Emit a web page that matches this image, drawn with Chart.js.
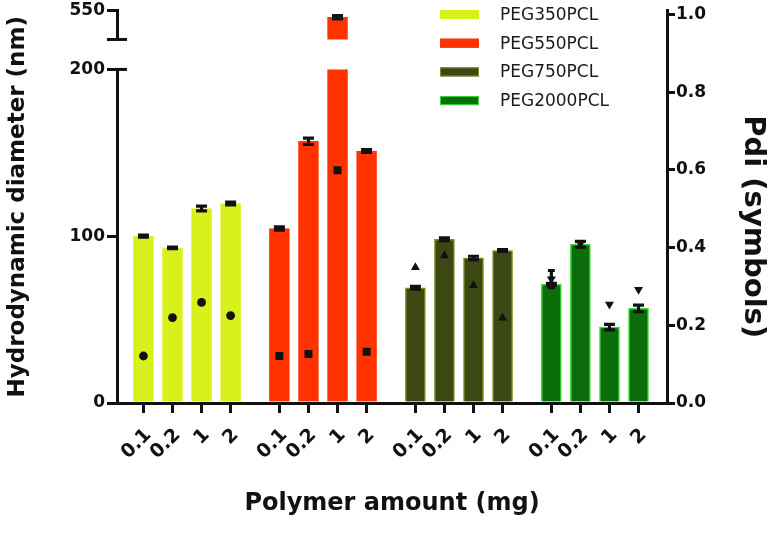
<!DOCTYPE html>
<html>
<head>
<meta charset="utf-8">
<script src="https://cdn.jsdelivr.net/npm/chart.js@4.4.1/dist/chart.umd.min.js"></script>
<style>
  html, body { margin: 0; padding: 0; background: #fff; }
  #wrap { width: 774px; height: 537px; }
</style>
</head>
<body>
<div id="wrap"><canvas id="sizeChart"></canvas></div>
<script>
// polymer amount (mg) - x tick labels, same for every group
const amounts = ["0.1", "0.2", "1", "2"];
const polymers = ["PEG350PCL", "PEG550PCL", "PEG750PCL", "PEG2000PCL"];

// hydrodynamic diameter (nm), bars
const sizePEG350 = [100.0, 93.0, 116.6, 119.6];
const sizePEG550 = [104.6, 156.9, 538.4, 151.1];
const sizePEG750 = [69.1, 98.2, 87.0, 91.4];
const sizePEG2000 = [71.1, 95.2, 45.5, 56.7];

const sizeErrPEG350 = [0.6, 0.4, 1.4, 0.9];
const sizeErrPEG550 = [1.0, 1.9, 3.0, 0.8];
const sizeErrPEG750 = [0.8, 0.8, 1.0, 0.5];
const sizeErrPEG2000 = [0.6, 1.7, 1.6, 2.0];

// Pdi (symbols)
const pdiPEG350 = [0.121, 0.220, 0.259, 0.225];
const pdiPEG550 = [0.121, 0.126, 0.599, 0.132];
const pdiPEG750 = [0.349, 0.379, 0.303, 0.219];
const pdiPEG2000 = [0.319, 0.410, 0.254, 0.292];
const pdiErrPEG2000 = [0.022, 0, 0, 0];

const sizeTicksLow = [0, 100, 200];
const sizeTicksHigh = [500, 550];
const pdiTicks = [0, 0.2, 0.4, 0.6, 0.8, 1.0];

const groups = [
    { label: polymers[0], size: sizePEG350, sizeErr: sizeErrPEG350, pdi: pdiPEG350, pdiErr: null,
      fill: "#d8f01c", edge: "#d8f01c", symbol: "circle", rot: 0, radius: 4.4 },
    { label: polymers[1], size: sizePEG550, sizeErr: sizeErrPEG550, pdi: pdiPEG550, pdiErr: null,
      fill: "#ff3200", edge: "#ff3200", symbol: "rect", rot: 0, radius: 5.6 },
    { label: polymers[2], size: sizePEG750, sizeErr: sizeErrPEG750, pdi: pdiPEG750, pdiErr: null,
      fill: "#3b4813", edge: "#7d8f22", symbol: "triangle", rot: 0, radius: 5.2 },
    { label: polymers[3], size: sizePEG2000, sizeErr: sizeErrPEG2000, pdi: pdiPEG2000, pdiErr: pdiErrPEG2000,
      fill: "#0b6e0b", edge: "#3bd83b", symbol: "triangle", rot: 180, radius: 5.2 }
];

// group g, bar j -> position on the linear x scale (gap between groups)
const GROUP_STEP = 4.68;
const xPos = (g, j) => g * GROUP_STEP + j;
const tickPos = [];
groups.forEach((grp, g) => amounts.forEach((a, j) => tickPos.push(xPos(g, j))));

const INK = "#111";
const FONT = "'DejaVu Sans', sans-serif";

const datasets = [];
// bars on the lower (0-200) and upper (500-550) part of the broken axis
["y", "yTop"].forEach(axisId => {
    groups.forEach((grp, g) => {
        datasets.push({
            type: "bar",
            label: grp.label,
            data: grp.size.map((v, j) => ({ x: xPos(g, j), y: v })),
            errors: grp.sizeErr,
            capHalf: 5.5,
            yAxisID: axisId,
            backgroundColor: grp.fill,
            borderColor: grp.edge,
            borderWidth: 1.5,
            barThickness: 20,
            grouped: false,
            order: 2
        });
    });
});
// Pdi symbols on the right axis
groups.forEach((grp, g) => {
    datasets.push({
        type: "scatter",
        label: grp.label + " Pdi",
        data: grp.pdi.map((v, j) => ({ x: xPos(g, j), y: v })),
        errors: grp.pdiErr,
        capHalf: 3.5,
        yAxisID: "y1",
        pointStyle: grp.symbol,
        rotation: grp.rot,
        pointRadius: grp.radius,
        backgroundColor: INK,
        borderColor: INK,
        borderWidth: 0,
        order: 1
    });
});

// error bars, drawn through the dataset's own y scale
const errorBars = {
    id: "errorBars",
    afterDatasetDraw(chart, args) {
        const ds = chart.data.datasets[args.index];
        if (!ds.errors) return;
        const meta = args.meta;
        const yScale = chart.scales[meta.yAxisID];
        const area = chart.chartArea;
        const ctx = chart.ctx;
        ctx.save();
        ctx.beginPath();
        ctx.rect(area.left, yScale.top - 6, area.right - area.left, yScale.bottom - yScale.top + 6);
        ctx.clip();
        ctx.strokeStyle = INK;
        ctx.lineWidth = 3.2;
        meta.data.forEach((el, i) => {
            const e = ds.errors[i];
            if (!e) return;
            const v = ds.data[i].y;
            const hi = yScale.getPixelForValue(v + e);
            const lo = yScale.getPixelForValue(v - e);
            const w = ds.capHalf;
            ctx.beginPath();
            ctx.moveTo(el.x, hi); ctx.lineTo(el.x, lo);
            ctx.moveTo(el.x - w, hi); ctx.lineTo(el.x + w, hi);
            ctx.moveTo(el.x - w, lo); ctx.lineTo(el.x + w, lo);
            ctx.stroke();
        });
        ctx.restore();
    }
};

// short marks on the inner side where the left axis is broken
const axisBreak = {
    id: "axisBreak",
    afterDraw(chart) {
        const ctx = chart.ctx;
        const x0 = chart.chartArea.left;
        const low = chart.scales.y, high = chart.scales.yTop;
        ctx.save();
        ctx.strokeStyle = INK;
        ctx.lineWidth = 3;
        [low.getPixelForValue(sizeTicksLow[2]), high.getPixelForValue(sizeTicksHigh[0])].forEach(py => {
            ctx.beginPath();
            ctx.moveTo(x0 - 2, py);
            ctx.lineTo(x0 + 10, py);
            ctx.stroke();
        });
        ctx.restore();
    }
};

// legend in the upper right of the plot
const legendBox = {
    id: "legendBox",
    afterDraw(chart) {
        const { ctx, chartArea } = chart;
        const x0 = chartArea.right - 227;
        ctx.save();
        ctx.font = "17px " + FONT;
        ctx.textBaseline = "middle";
        groups.forEach((grp, i) => {
            const yc = chartArea.top + 4 + i * 28.7;
            ctx.fillStyle = grp.fill;
            ctx.fillRect(x0, yc - 4.5, 39, 9);
            ctx.strokeStyle = grp.edge;
            ctx.lineWidth = 1;
            ctx.strokeRect(x0 + 0.5, yc - 4, 38, 8);
            ctx.fillStyle = "#1a1a1a";
            ctx.fillText(grp.label, x0 + 60, yc + 1);
        });
        ctx.restore();
    }
};

const tickFont = { family: FONT, size: 17, weight: "bold", lineHeight: 1 };
const axisGrid = { drawOnChartArea: false, color: INK, lineWidth: 3, tickLength: 10, offset: false };
const axisBorder = { color: INK, width: 3 };
const blankAxis = (extra) => Object.assign({
    type: "linear",
    grid: { display: false, drawTicks: false },
    border: { display: false },
    ticks: { display: false }
}, extra);

new Chart(document.getElementById("sizeChart"), {
    data: { datasets: datasets },
    options: {
        responsive: true,
        maintainAspectRatio: false,
        animation: false,
        layout: { padding: { top: 10, bottom: 15, left: 0, right: 0 } },
        plugins: { legend: { display: false }, tooltip: { enabled: false } },
        scales: {
            x: {
                type: "linear",
                offset: false,
                min: -0.91,
                max: 18.02,
                afterBuildTicks: s => { s.ticks = tickPos.map(v => ({ value: v })); },
                ticks: {
                    autoSkip: false, minRotation: 45, maxRotation: 45, padding: 11, labelOffset: 5,
                    color: INK, font: { family: FONT, size: 19, weight: "bold" },
                    callback: (v, i) => amounts[i % amounts.length]
                },
                grid: axisGrid,
                border: axisBorder,
                title: { display: true, text: "Polymer amount (mg)", color: INK,
                         font: { family: FONT, size: 24, weight: "bold" } },
                afterFit: s => { s.height = 119; }
            },
            yTitle: blankAxis({
                position: "left", weight: 10,
                title: { display: true, text: "Hydrodynamic diameter (nm)", color: INK,
                         font: { family: FONT, size: 23, weight: "bold" } },
                afterFit: s => { s.width = 36; }
            }),
            yTop: {
                type: "linear", position: "left", stack: "left", stackWeight: 29, weight: 3,
                min: sizeTicksHigh[0], max: sizeTicksHigh[1],
                afterBuildTicks: s => { s.ticks = sizeTicksHigh.map(v => ({ value: v })); },
                ticks: { autoSkip: false, color: INK, font: tickFont, padding: 2,
                         callback: v => (v === sizeTicksHigh[1] ? String(v) : "") },
                grid: axisGrid,
                border: axisBorder,
                afterFit: s => { s.width = 81; }
            },
            yGap: blankAxis({
                position: "left", stack: "left", stackWeight: 30, weight: 2,
                afterFit: s => { s.width = 81; }
            }),
            y: {
                type: "linear", position: "left", stack: "left", stackWeight: 334, weight: 1,
                min: sizeTicksLow[0], max: sizeTicksLow[2],
                afterBuildTicks: s => { s.ticks = sizeTicksLow.map(v => ({ value: v })); },
                ticks: { autoSkip: false, color: INK, font: tickFont, padding: 2 },
                grid: axisGrid,
                border: axisBorder,
                afterFit: s => { s.width = 81; }
            },
            y1: {
                type: "linear", position: "right", weight: 1,
                min: 0, max: 1.0103,
                afterBuildTicks: s => { s.ticks = pdiTicks.map(v => ({ value: v })); },
                ticks: { autoSkip: false, color: INK, font: tickFont, padding: 1, callback: v => v.toFixed(1) },
                grid: Object.assign({}, axisGrid, { tickLength: 8 }),
                border: axisBorder,
                afterFit: s => { s.width = 43; }
            },
            yRTgap: blankAxis({
                position: "right", stack: "right", stackWeight: 40, weight: 2,
                afterFit: s => { s.width = 64; }
            }),
            yRT: blankAxis({
                position: "right", stack: "right", stackWeight: 353, weight: 3,
                title: { display: true, text: "Pdi (symbols)", color: INK,
                         font: { family: FONT, size: 29, weight: "bold" } },
                afterFit: s => { s.width = 64; }
            })
        }
    },
    plugins: [errorBars, axisBreak, legendBox]
});
</script>
</body>
</html>
